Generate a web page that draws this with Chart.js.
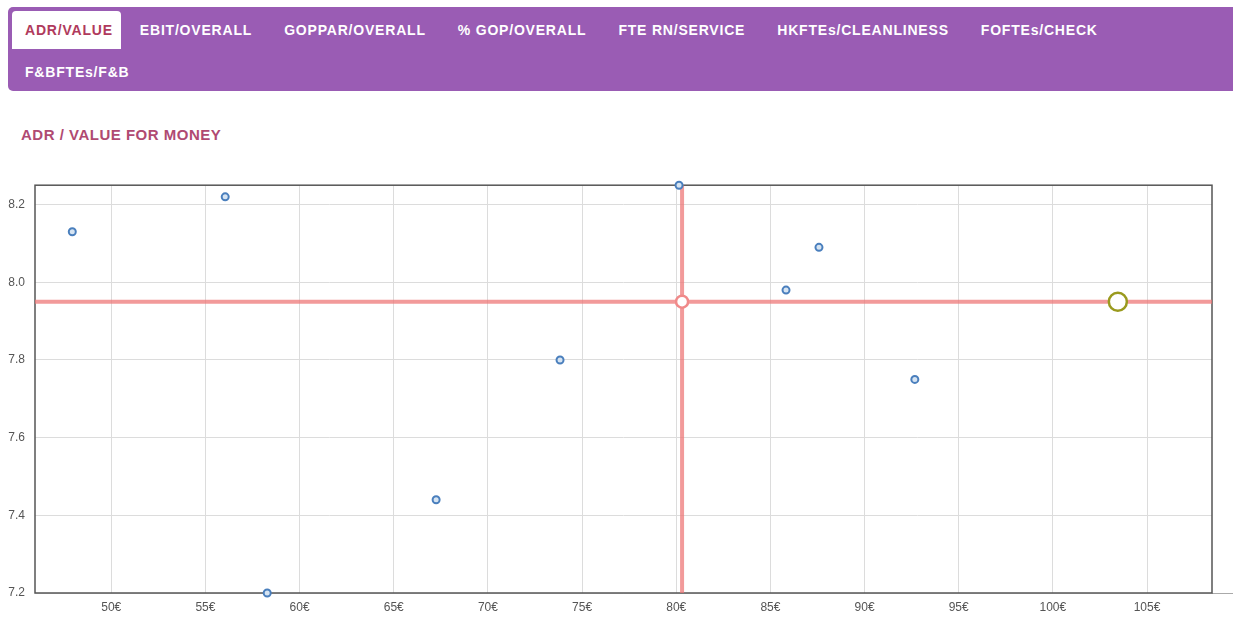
<!DOCTYPE html>
<html lang="en">
<head>
<meta charset="UTF-8" />
<title>ADR / Value for money</title>
<script src="https://cdn.jsdelivr.net/npm/chart.js@4.4.1/dist/chart.umd.min.js"></script>
<style>
  html, body { margin: 0; padding: 0; background: #fff; }
  body { width: 1233px; height: 617px; position: relative; overflow: hidden; font-family: "Liberation Sans", Arial, sans-serif; }
  .tabs { position: absolute; left: 8px; top: 7px; width: 1235px; height: 84px; background: #9a5cb4; border-radius: 5px; box-sizing: border-box; padding: 4px 0 0 4px; display: flex; flex-wrap: wrap; align-content: flex-start; row-gap: 2px; }
  .tab { height: 38px; line-height: 38px; padding: 0 13px; margin-right: 6px; color: #fff; font-weight: bold; font-size: 14px; letter-spacing: 0.8px; white-space: nowrap; border-radius: 4px 4px 0 0; }
  .tab.active { background: #fff; color: #b03a5c; padding-right: 8px; margin-right: 6px; }
  .tabs .break { flex-basis: 100%; height: 0; }
  h2 { position: absolute; left: 21px; top: 126px; margin: 0; font-size: 15px; font-weight: bold; letter-spacing: 0.5px; color: #b04a72; }
  #chart { position: absolute; left: 0; top: 168px; }
</style>
</head>
<body>
<div class="tabs" id="tabs"></div>
<h2>ADR / VALUE FOR MONEY</h2>
<canvas id="chart" width="1233" height="449"></canvas>
<script>
const tabs = ['ADR/VALUE', 'EBIT/OVERALL', 'GOPPAR/OVERALL', '% GOP/OVERALL', 'FTE RN/SERVICE', 'HKFTEs/CLEANLINESS', 'FOFTEs/CHECK', 'F&BFTEs/F&B']

// hotels: ADR (€) vs value-for-money score
const adr = [47.93, 56.05, 58.28, 67.25, 73.83, 80.15, 85.83, 87.58, 92.67]
const score = [8.13, 8.22, 7.2, 7.44, 7.8, 8.25, 7.98, 8.09, 7.75]
const avgAdr = 80.31
const avgScore = 7.95
const ownAdr = 103.45
const ownScore = 7.95

const xTicks = [50, 55, 60, 65, 70, 75, 80, 85, 90, 95, 100, 105]
const yTicks = [7.2, 7.4, 7.6, 7.8, 8.0, 8.2]
const xMin = 45.95, xMax = 108.45
const yMin = 7.2, yMax = 8.25

const tabsEl = document.getElementById('tabs')
tabs.forEach((t, i) => {
  if (i === 7) {
    const br = document.createElement('div')
    br.className = 'break'
    tabsEl.appendChild(br)
  }
  const d = document.createElement('div')
  d.className = 'tab' + (i === 0 ? ' active' : '')
  d.textContent = t
  tabsEl.appendChild(d)
})

const frame = {
  id: 'frame',
  beforeDatasetsDraw(chart) {
    const { ctx, chartArea: a } = chart
    ctx.save()
    ctx.strokeStyle = '#aaa'
    ctx.lineWidth = 1
    ctx.beginPath()
    ctx.moveTo(a.right, a.bottom + 0.5)
    ctx.lineTo(chart.width, a.bottom + 0.5)
    ctx.stroke()
    ctx.strokeStyle = '#555'
    ctx.lineWidth = 1.5
    ctx.strokeRect(a.left, a.top, a.right - a.left, a.bottom - a.top)
    ctx.restore()
  },
}

const pink = 'rgba(238,120,120,0.75)'
const tickFont = { family: '"Liberation Sans", Arial, sans-serif', size: 12 }

new Chart(document.getElementById('chart'), {
  type: 'scatter',
  data: {
    datasets: [
      {
        data: adr.map((x, i) => ({ x, y: score[i] })),
        pointRadius: 3.5,
        pointHoverRadius: 3.5,
        borderWidth: 2,
        borderColor: '#4a7fbd',
        backgroundColor: '#d6e4f2',
        clip: false,
        order: 1,
      },
      {
        data: [{ x: avgAdr, y: avgScore }],
        pointRadius: 6,
        borderWidth: 2.5,
        borderColor: '#f08a8a',
        backgroundColor: '#fff',
        clip: false,
        order: 2,
      },
      {
        data: [{ x: ownAdr, y: ownScore }],
        pointRadius: 9,
        borderWidth: 2.5,
        borderColor: '#9a9a1e',
        backgroundColor: '#fff',
        clip: false,
        order: 2,
      },
      {
        data: [{ x: avgAdr, y: yMin }, { x: avgAdr, y: yMax }],
        showLine: true,
        pointRadius: 0,
        borderWidth: 4,
        borderColor: pink,
        order: 5,
      },
      {
        data: [{ x: xMin, y: avgScore }, { x: xMax, y: avgScore }],
        showLine: true,
        pointRadius: 0,
        borderWidth: 4,
        borderColor: pink,
        order: 5,
      },
    ],
  },
  options: {
    responsive: false,
    animation: false,
    layout: { padding: { top: 3, right: 21, left: 0, bottom: 0 } },
    plugins: { legend: { display: false }, tooltip: { enabled: false } },
    scales: {
      x: {
        type: 'linear',
        min: xMin,
        max: xMax,
        afterBuildTicks: (s) => { s.ticks = xTicks.map((v) => ({ value: v })) },
        afterFit: (s) => { s.height = 24 },
        grid: { color: '#dcdcdc', drawTicks: false },
        border: { display: false },
        ticks: { padding: 7, color: '#555', font: tickFont, callback: (v) => v + '€' },
      },
      y: {
        type: 'linear',
        min: yMin,
        max: yMax,
        afterBuildTicks: (s) => { s.ticks = yTicks.map((v) => ({ value: v })) },
        afterFit: (s) => { s.width = 35 },
        grid: { color: '#dcdcdc', drawTicks: false },
        border: { display: false },
        ticks: { padding: 10, color: '#555', font: tickFont, callback: (v) => v.toFixed(1) },
      },
    },
  },
  plugins: [frame],
})
</script>
</body>
</html>
